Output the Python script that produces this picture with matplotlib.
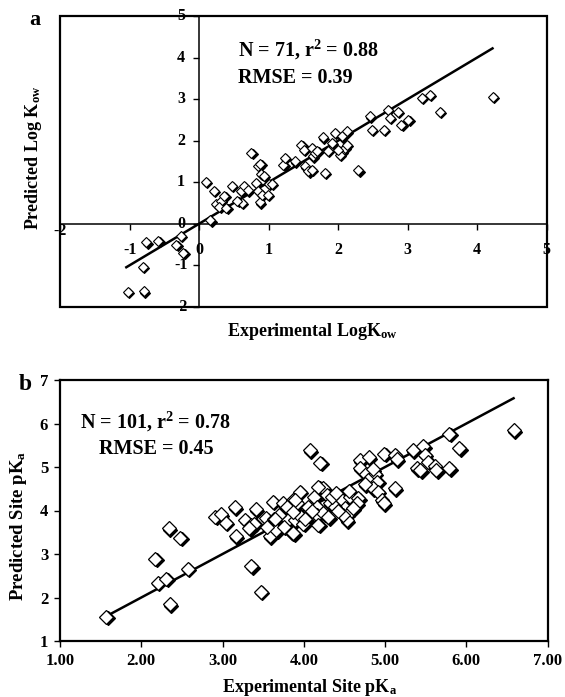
import matplotlib
matplotlib.use("Agg")
import matplotlib.pyplot as plt
import matplotlib.transforms as mtransforms
import numpy as np

plt.rcParams['font.family'] = ['Liberation Serif', 'DejaVu Serif']
plt.rcParams['font.weight'] = 'bold'
plt.rcParams['mathtext.fontset'] = 'custom'
plt.rcParams['mathtext.rm'] = 'Liberation Serif:bold'
plt.rcParams['mathtext.it'] = 'Liberation Serif:bold'
plt.rcParams['mathtext.bf'] = 'Liberation Serif:bold'

# ---------------- Panel a data: Log Kow ----------------
kow_exp = [-1.03, -0.80, -0.81, -0.76, -0.59, -0.27, -0.33, -0.23, 0.09, 0.16,
           0.21, 0.24, 0.31, 0.36, 0.29, 0.39, 0.47, 0.61, 0.60, 0.64,
           0.75, 0.81, 0.85, 0.88, 0.89, 0.93, 0.85, 0.87, 0.90, 1.00,
           0.99, 1.21, 1.23, 1.38, 1.47, 1.50, 1.62, 1.64, 1.52, 1.57,
           1.81, 1.78, 1.95, 1.91, 2.05, 2.12, 2.05, 2.10, 2.12, 2.02,
           2.29, 2.45, 2.48, 2.66, 2.71, 2.74, 2.86, 2.91, 3.01, 3.20,
           3.32, 3.46, 4.22, 1.62, 1.66, 1.05, 0.55, 1.85, 2.00, 1.70, 0.70]
kow_pred = [-1.65, -1.63, -1.04, -0.45, -0.41, -0.30, -0.52, -0.70, 1.01, 0.08,
            0.79, 0.47, 0.54, 0.67, 0.40, 0.38, 0.91, 0.50, 0.79, 0.91,
            1.70, 0.98, 1.39, 1.44, 1.20, 1.15, 0.78, 0.51, 0.70, 0.96,
            0.70, 1.42, 1.58, 1.50, 1.90, 1.78, 1.82, 1.62, 1.38, 1.26,
            1.22, 2.08, 2.19, 1.95, 2.10, 2.22, 1.74, 1.82, 1.90, 1.66,
            1.28, 2.58, 2.26, 2.26, 2.74, 2.54, 2.70, 2.38, 2.50, 3.02,
            3.10, 2.70, 3.05, 1.30, 1.70, 0.95, 0.55, 1.75, 1.78, 1.76, 0.80]
kow_ticks = [-2, -1, 0, 1, 2, 3, 4, 5]
kow_fit = [-1.05, 4.22]

# ---------------- Panel b data: site pKa ----------------
pka_exp = [1.57, 2.17, 2.20, 2.31, 2.34, 2.35, 2.48, 2.57, 2.91, 2.98,
           3.04, 3.16, 3.15, 3.28, 3.35, 3.39, 3.33, 3.35, 3.41, 3.47,
           3.54, 3.58, 3.63, 3.66, 3.62, 3.74, 3.80, 3.85, 3.89, 3.91,
           3.87, 4.07, 4.20, 4.69, 4.80, 4.69, 4.99, 5.12, 5.14, 5.34,
           5.47, 5.49, 5.53, 5.61, 5.39, 5.43, 5.63, 5.79, 5.79, 5.91,
           6.58, 5.12, 4.77, 4.87, 4.79, 4.90, 4.85, 4.91, 4.96, 4.24,
           4.18, 4.28, 4.47, 4.63, 4.51, 4.53, 3.95, 3.89, 4.12, 4.05,
           4.16, 4.32, 4.38, 3.79, 3.97, 3.87, 4.16, 4.57, 4.67, 3.87,
           4.18, 4.53, 4.98, 3.75, 3.99, 4.48, 4.02, 4.65, 4.24, 4.60,
           4.35, 4.42, 3.70, 4.10, 4.75, 4.55, 4.30, 3.55, 4.40, 4.85, 3.65]
pka_pred = [1.56, 2.89, 2.34, 2.43, 3.59, 1.85, 3.37, 2.66, 3.86, 3.92,
            3.72, 3.41, 4.07, 3.78, 3.67, 3.70, 3.59, 2.72, 4.03, 2.13,
            3.82, 3.41, 3.80, 3.55, 4.20, 4.17, 3.78, 3.49, 3.78, 4.17,
            4.24, 5.39, 5.10, 5.16, 5.22, 4.97, 5.30, 5.28, 5.18, 5.39,
            5.48, 5.28, 5.12, 5.02, 4.97, 4.93, 4.93, 4.97, 5.77, 5.43,
            5.85, 4.51, 4.85, 4.85, 4.70, 4.66, 4.51, 4.43, 4.24, 4.51,
            4.55, 4.36, 4.24, 4.24, 4.05, 3.90, 4.43, 4.24, 4.32, 4.09,
            4.09, 4.17, 4.09, 4.09, 3.86, 3.97, 3.90, 4.32, 4.28, 3.48,
            3.67, 3.78, 4.17, 3.63, 3.70, 3.90, 3.80, 4.17, 3.94, 4.05,
            4.30, 4.00, 3.90, 4.00, 4.60, 4.45, 3.85, 3.62, 4.40, 4.95, 3.80]
pka_xticks = [1, 2, 3, 4, 5, 6, 7]
pka_yticks = [1, 2, 3, 4, 5, 6, 7]
pka_fit = [1.56, 6.58]

W, H = 565, 697
fig = plt.figure(figsize=(W / 100, H / 100), dpi=100)


def shadow_scatter(ax, x, y, ms, off, mew):
    tr = mtransforms.offset_copy(ax.transData, fig=fig, x=off, y=-off, units='points')
    ax.plot(x, y, linestyle='none', marker='D', ms=ms, mfc='black', mec='black',
            mew=mew, transform=tr, zorder=3, clip_on=False)
    ax.plot(x, y, linestyle='none', marker='D', ms=ms, mfc='white', mec='black',
            mew=mew, zorder=4, clip_on=False)


# ================= Panel a =================
axa = fig.add_axes([60.3 / W, 1 - 306.7 / H, (546.7 - 60.3) / W, (306.7 - 16) / H])
axa.set_xlim(-2, 5)
axa.set_ylim(-2, 5)
axa.patch.set_edgecolor('black')
axa.patch.set_linewidth(1.6)
for s in ['top', 'right']:
    axa.spines[s].set_visible(False)
axa.spines['left'].set_position(('data', 0))
axa.spines['bottom'].set_position(('data', 0))
axa.spines['left'].set_linewidth(1.1)
axa.spines['bottom'].set_linewidth(1.1)
axa.set_xticks(kow_ticks)
axa.set_yticks(kow_ticks)
axa.tick_params(axis='both', direction='out', length=4.5, width=1.0,
                labelbottom=False, labelleft=False)

for t in kow_ticks:
    dy = -5 if t == -2 else -19
    axa.annotate(str(t), (t, 0), xytext=(0, dy), textcoords='offset points',
                 ha='center', va='center', fontsize=11.5, fontweight='bold')
    axa.annotate(str(t), (0, t), xytext=(-13, 0), textcoords='offset points',
                 ha='center', va='center', fontsize=11.5, fontweight='bold')

axa.plot(kow_fit, kow_fit, color='black', lw=1.8, zorder=2)
shadow_scatter(axa, kow_exp, kow_pred, ms=4.8, off=0.9, mew=0.8)

axa.text(238 / W, 1 - 50 / H, 'N = 71, r$^{2}$ = 0.88', transform=fig.transFigure,
         ha='left', va='center', fontsize=14.5, fontweight='bold')
axa.text(238 / W, 1 - 78 / H, 'RMSE = 0.39', transform=fig.transFigure,
         ha='left', va='center', fontsize=14.5, fontweight='bold')

fig.text(35 / W, 1 - 20 / H, 'a', ha='center', va='center', fontsize=16, fontweight='bold')
fig.text(312 / W, 1 - 331 / H, 'Experimental LogK$_{\\mathrm{ow}}$', ha='center', va='center',
         fontsize=13, fontweight='bold')
fig.text(33 / W, 1 - 158 / H, 'Predicted Log K$_{\\mathrm{ow}}$', ha='center', va='center',
         rotation=90, fontsize=13, fontweight='bold')

# ================= Panel b =================
axb = fig.add_axes([60 / W, 1 - 641 / H, (547.7 - 60) / W, (641 - 380) / H])
axb.set_xlim(1, 7)
axb.set_ylim(1, 7)
for s in axb.spines.values():
    s.set_linewidth(1.6)
axb.set_xticks(pka_xticks)
axb.set_xticklabels([f'{v:.2f}' for v in pka_xticks])
axb.set_yticks(pka_yticks)
axb.set_yticklabels([str(v) for v in pka_yticks])
axb.tick_params(axis='both', direction='out', length=4.5, width=1.0, labelsize=12, pad=4)
for lbl in axb.get_xticklabels() + axb.get_yticklabels():
    lbl.set_fontweight('bold')

axb.plot(pka_fit, pka_fit, color='black', lw=1.8, zorder=2)
shadow_scatter(axb, pka_exp, pka_pred, ms=7, off=1.1, mew=0.9)

axb.text(156 / W, 1 - 421.7 / H, 'N = 101, r$^{2}$ = 0.78', transform=fig.transFigure,
         ha='center', va='center', fontsize=14.5, fontweight='bold')
axb.text(156 / W, 1 - 449 / H, 'RMSE = 0.45', transform=fig.transFigure,
         ha='center', va='center', fontsize=14.5, fontweight='bold')

fig.text(25 / W, 1 - 385 / H, 'b', ha='center', va='center', fontsize=17, fontweight='bold')
fig.text(310 / W, 1 - 688 / H, 'Experimental Site pK$_{\\mathrm{a}}$', ha='center', va='center',
         fontsize=13, fontweight='bold')
fig.text(19 / W, 1 - 526 / H, 'Predicted Site pK$_{\\mathrm{a}}$', ha='center', va='center',
         rotation=90, fontsize=13.5, fontweight='bold')

fig.savefig('out.png', dpi=100)
